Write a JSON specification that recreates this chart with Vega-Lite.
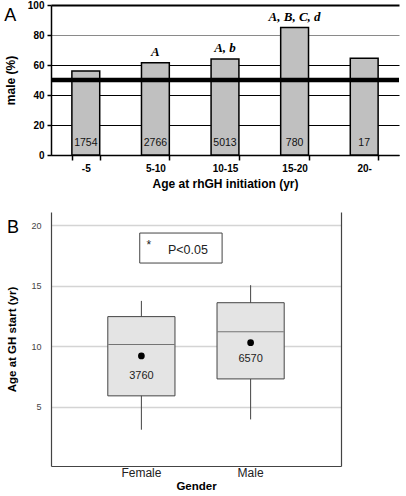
{
  "$schema": "https://vega.github.io/schema/vega-lite/v6.json",
  "padding": {"left": 4, "top": 0, "right": 0, "bottom": 0},
  "background": "white",
  "config": {"font": "Liberation Sans", "view": {"stroke": null}, "concat": {"spacing": 23}},
  "vconcat": [
    {
      "width": 348,
      "height": 150,
      "title": {"text": "A", "orient": "top", "anchor": "start", "frame": "bounds", "fontSize": 18, "fontWeight": "normal", "font": "Liberation Sans", "color": "black", "offset": -25, "baseline": "top"},
      "data": {"values": [
        {"age": "-5", "male": 56, "n": "1754", "sig": ""},
        {"age": "5-10", "male": 61.5, "n": "2766", "sig": "A"},
        {"age": "10-15", "male": 64, "n": "5013", "sig": "A, b"},
        {"age": "15-20", "male": 85, "n": "780", "sig": "A, B, C, d"},
        {"age": "20-", "male": 64.5, "n": "17", "sig": ""}
      ]},
      "layer": [
        {
          "mark": {"type": "bar", "fill": "#c0c0c0", "stroke": "black", "strokeWidth": 1.5},
          "encoding": {
            "x": {"field": "age", "type": "nominal", "sort": null, "scale": {"paddingInner": 0.6, "paddingOuter": 0.3},
              "axis": {"title": "Age at rhGH initiation (yr)", "titleFontSize": 12, "titleFontWeight": "bold", "titleColor": "black", "titlePadding": 5,
                "labelFontWeight": "bold", "labelFontSize": 10, "labelColor": "black", "labelAngle": 0, "labelPadding": 3,
                "tickBand": "extent", "tickSize": 5, "tickColor": "black", "tickWidth": 1.5, "domainColor": "black", "domainWidth": 1.5}},
            "y": {"field": "male", "type": "quantitative", "scale": {"domain": [0, 100]},
              "axis": {"title": "male (%)", "titleFontSize": 12, "titleFontWeight": "bold", "titleColor": "black", "titlePadding": 10,
                "values": [0, 20, 40, 60, 80, 100], "tickCount": 6, "labelFontWeight": "bold", "labelFontSize": 10, "labelColor": "black", "labelPadding": 3,
                "tickSize": 4, "tickColor": "black", "tickWidth": 1.5, "domainColor": "black", "domainWidth": 1.5,
                "grid": true, "gridColor": {"condition": {"test": "datum.value === 80", "value": "#8a8a8a"}, "value": "black"},
                "gridWidth": {"condition": {"test": "datum.value === 100", "value": 2}, "value": 1}}}
          }
        },
        {
          "mark": {"type": "text", "fontSize": 10.5, "color": "#111", "baseline": "middle"},
          "encoding": {
            "x": {"field": "age", "type": "nominal", "sort": null},
            "y": {"datum": 8},
            "text": {"field": "n"}
          }
        },
        {
          "mark": {"type": "text", "fontSize": 13, "font": "Liberation Serif", "fontStyle": "italic", "fontWeight": "bold", "baseline": "bottom", "dy": -4, "color": "black"},
          "encoding": {
            "x": {"field": "age", "type": "nominal", "sort": null},
            "y": {"field": "male", "type": "quantitative"},
            "text": {"field": "sig"}
          }
        },
        {
          "data": {"values": [{"reference": 50}]},
          "mark": {"type": "rule", "strokeWidth": 4.5, "color": "black"},
          "encoding": {"y": {"field": "reference", "type": "quantitative"}}
        }
      ]
    },
    {
      "width": 290,
      "height": 254,
      "title": {"text": "B", "orient": "top", "anchor": "start", "frame": "bounds", "fontSize": 18, "fontWeight": "normal", "font": "Liberation Sans", "color": "black", "offset": -25, "baseline": "top"},
      "layer": [
        {
          "data": {"values": [
            {"gender": "Female", "lo": 3.1, "q1": 5.9, "median": 10.15, "q3": 12.45, "hi": 13.75, "mean": 9.2, "n": "3760"},
            {"gender": "Male", "lo": 3.95, "q1": 7.3, "median": 11.2, "q3": 13.6, "hi": 15.05, "mean": 10.3, "n": "6570"}
          ]},
          "encoding": {
            "x": {"field": "gender", "type": "nominal", "scale": {"paddingInner": 0.385, "paddingOuter": 0.52},
              "axis": {"title": "Gender", "titleFontSize": 11.5, "titleFontWeight": "bold", "titleColor": "black", "titlePadding": 2,
                "labelFontSize": 12, "labelColor": "#222", "labelAngle": 0, "labelPadding": 1, "ticks": false,
                "domainColor": "#444", "domainWidth": 1.2}}
          },
          "layer": [
            {
              "mark": {"type": "rule", "color": "#444", "strokeWidth": 1},
              "encoding": {
                "y": {"field": "lo", "type": "quantitative", "scale": {"domain": [0.1, 21.1], "nice": false, "zero": false},
                  "axis": {"title": "Age at GH start (yr)", "titleFontSize": 11.5, "titleFontWeight": "bold", "titleColor": "black", "titlePadding": 13,
                    "values": [5, 10, 15, 20], "tickCount": 4, "labelFontSize": 9, "labelColor": "#444", "labelPadding": 10, "ticks": false,
                    "domainColor": "#444", "domainWidth": 1.2, "grid": true, "gridColor": "#d4d4d4", "gridWidth": 1.3}},
                "y2": {"field": "hi"}
              }
            },
            {
              "mark": {"type": "bar", "fill": "#e4e4e4", "stroke": "#444", "strokeWidth": 1},
              "encoding": {
                "y": {"field": "q1", "type": "quantitative", "scale": {"domain": [0.1, 21.1], "nice": false, "zero": false}},
                "y2": {"field": "q3"}
              }
            },
            {
              "mark": {"type": "tick", "color": "#444", "thickness": 1, "size": 66},
              "encoding": {"y": {"field": "median", "type": "quantitative", "scale": {"domain": [0.1, 21.1], "nice": false, "zero": false}}}
            },
            {
              "mark": {"type": "point", "filled": true, "color": "black", "opacity": 1, "size": 45},
              "encoding": {"y": {"field": "mean", "type": "quantitative", "scale": {"domain": [0.1, 21.1], "nice": false, "zero": false}}}
            },
            {
              "mark": {"type": "text", "fontSize": 11, "color": "#222", "baseline": "middle", "dy": -20},
              "encoding": {
                "y": {"field": "q1", "type": "quantitative", "scale": {"domain": [0.1, 21.1], "nice": false, "zero": false}},
                "text": {"field": "n"}
              }
            }
          ]
        },
        {
          "data": {"values": [{"label": "P<0.05", "star": "*"}]},
          "layer": [
            {
              "mark": {"type": "rect", "fill": "white", "stroke": "#444", "strokeWidth": 1},
              "encoding": {
                "x": {"datum": 0.306, "type": "quantitative", "scale": {"domain": [0, 1]}, "axis": null},
                "x2": {"datum": 0.59},
                "y": {"datum": 16.88, "type": "quantitative", "scale": {"domain": [0.1, 21.1], "nice": false, "zero": false},
                  "axis": {"orient": "right", "labels": false, "ticks": false, "grid": false, "title": null, "domainColor": "#444", "domainWidth": 1.2}},
                "y2": {"datum": 19.36}
              }
            },
            {
              "mark": {"type": "text", "fontSize": 12, "color": "#222", "baseline": "middle"},
              "encoding": {
                "x": {"datum": 0.337, "type": "quantitative"},
                "y": {"datum": 18.4, "type": "quantitative", "scale": {"domain": [0.1, 21.1], "nice": false, "zero": false}},
                "text": {"field": "star"}
              }
            },
            {
              "mark": {"type": "text", "fontSize": 12.5, "color": "#222", "baseline": "middle"},
              "encoding": {
                "x": {"datum": 0.472, "type": "quantitative"},
                "y": {"datum": 17.95, "type": "quantitative", "scale": {"domain": [0.1, 21.1], "nice": false, "zero": false}},
                "text": {"field": "label"}
              }
            }
          ]
        }
      ],
      "resolve": {"scale": {"x": "independent"}, "axis": {"y": "independent"}}
    }
  ]
}
